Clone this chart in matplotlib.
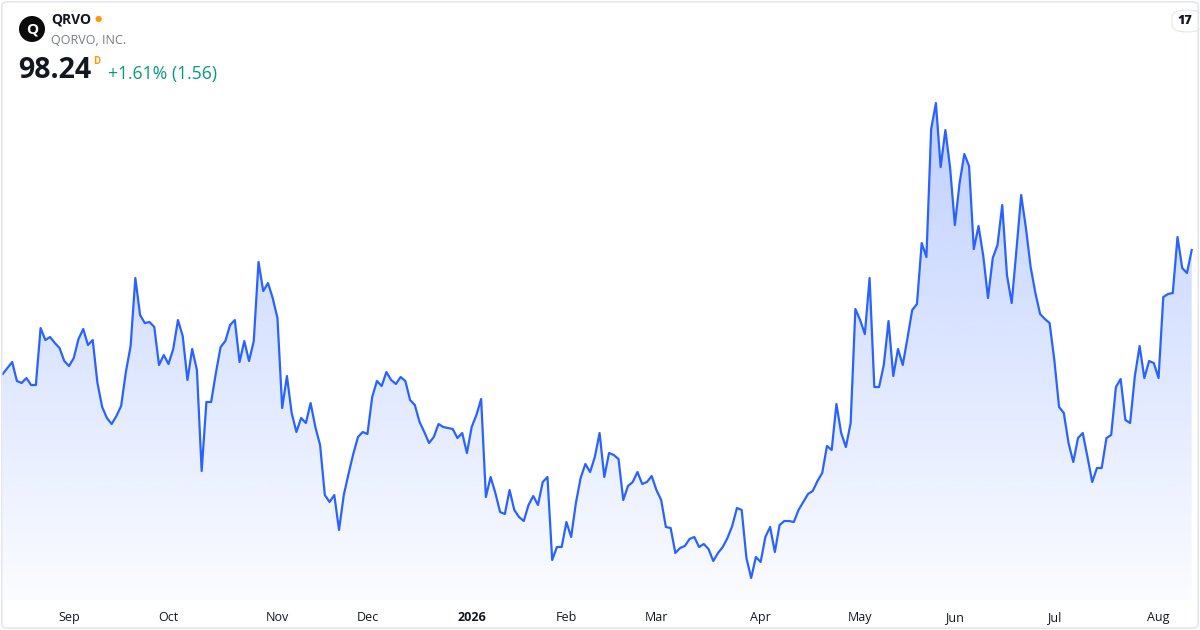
import matplotlib
matplotlib.use("Agg")
import matplotlib.pyplot as plt
from matplotlib.patches import FancyBboxPatch, Ellipse
import numpy as np
import pandas as pd

# QRVO daily closes (one per trading day)
prices_px = [374, 368, 362, 381, 383, 378, 385, 385, 328, 340, 337, 343, 348, 361, 366, 358,
             339, 329, 345, 340, 383, 407, 418, 424, 416, 406, 372, 346, 278, 315, 323, 322,
             327, 365, 355, 364, 349, 320, 336, 380, 349, 370, 471, 402, 402, 373, 347, 341,
             325, 320, 362, 341, 361, 341, 262, 291, 283, 298, 318, 408, 376, 413, 432, 418,
             423, 403, 427, 445, 495, 502, 495, 530, 495, 474, 454, 437, 432, 434, 397, 381,
             386, 372, 380, 384, 377, 381, 400, 405, 422, 432, 443, 437, 424, 427, 428, 429,
             438, 433, 453, 427, 415, 399, 497, 477, 493, 512, 514, 490, 510, 517, 521, 505,
             496, 505, 482, 477, 560, 547, 547, 522, 537, 503, 478, 464, 472, 457, 433, 477,
             453, 455, 459, 500, 486, 482, 472, 484, 482, 476, 490, 500, 527, 528, 553, 548,
             546, 539, 537, 547, 544, 549, 561, 553, 547, 538, 526, 508, 510, 558, 578, 557,
             562, 537, 527, 552, 525, 521, 521, 522, 510, 502, 494, 491, 481, 473, 446, 450,
             404, 433, 447, 423, 309, 320, 334, 278, 387, 387, 365, 321, 376, 349, 365, 338,
             310, 304, 243, 257, 129, 103, 167, 130, 168, 225, 183, 154, 166, 249, 226, 256,
             298, 258, 245, 205, 275, 303, 250, 195, 228, 267, 293, 314, 319, 323, 360, 407,
             413, 443, 462, 438, 433, 457, 482, 468, 468, 438, 435, 387, 379, 420, 423, 376,
             346, 378, 361, 363, 378, 297, 294, 293, 237, 268, 273, 250]
# convert the read heights to prices: last close 98.24, previous close 96.68
prices = 98.24 - (np.array(prices_px) - 250) * 1.56 / 23

holidays = ['2025-09-01', '2025-11-27', '2025-12-25', '2026-01-01', '2026-01-19',
            '2026-02-16', '2026-04-03', '2026-05-25', '2026-06-19', '2026-07-03']
dates = pd.bdate_range('2025-08-12', periods=len(prices), freq='C', holidays=holidays)

symbol = "QRVO"
company = "QORVO, INC."
last = "98.24"
change = "+1.61% (1.56)"

line_color = '#2962FF'

fig = plt.figure(figsize=(12, 6.3), dpi=100)
plt.rcParams['font.family'] = ['Open Sans', 'DejaVu Sans']

ax = fig.add_axes([0, 30 / 630, 1, 600 / 630])
x = np.arange(len(prices))
ymin, ymax = 74.5, 115.2
ax.set_xlim(-0.57, 252.75)
ax.set_ylim(ymin, ymax)

# gradient fill under the line
poly = ax.fill_between(x, prices, ymin, facecolor='none', edgecolor='none')
alpha = np.linspace(0.30, 0.02, 256)
grad = np.zeros((256, 1, 4))
grad[:, 0, :3] = matplotlib.colors.to_rgb(line_color)
grad[:, 0, 3] = alpha
im = ax.imshow(grad, extent=[-0.57, 252.75, ymin, prices.max()], aspect='auto',
               origin='upper', zorder=1)
im.set_clip_path(poly.get_paths()[0], transform=ax.transData)
ax.set_ylim(ymin, ymax)

ax.plot(x, prices, color=line_color, linewidth=1.6, zorder=2, solid_joinstyle='round')

# month ticks at the first trading day of each month
month = dates.month
pos = [i for i in range(1, len(dates)) if month[i] != month[i - 1]]
labels = [str(dates[i].year) if dates[i].month == 1 else dates[i].strftime('%b') for i in pos]
ax.set_xticks(pos)
ax.set_xticklabels(labels, fontsize=9, color='#131722')
for lab, t in zip(ax.get_xticklabels(), labels):
    if t.isdigit():
        lab.set_fontweight('bold')
ax.tick_params(axis='x', length=0, pad=8)
ax.set_yticks([])
for s in ax.spines.values():
    s.set_visible(False)
ax.patch.set_alpha(0)

# header
fig.patches.append(Ellipse((32 / 1200, 1 - 29 / 630), 26 / 1200, 26 / 630,
                           transform=fig.transFigure, facecolor='#0b0b0b', edgecolor='none'))
fig.text(32 / 1200, 1 - 29.5 / 630, "Q", fontsize=11, fontweight='bold', color='white',
         ha='center', va='center')
fig.text(51 / 1200, 1 - 20 / 630, symbol, fontsize=10, fontweight='bold', color='#131722',
         va='center')
fig.text(95 / 1200, 1 - 20 / 630, "●", fontsize=6, color='#FF9800', va='center')
fig.text(51 / 1200, 1 - 41 / 630, company, fontsize=9, color='#787B86', va='center')
fig.text(18 / 1200, 1 - 71 / 630, last, fontsize=20.5, fontweight='bold', color='#131722',
         va='center')
fig.text(93 / 1200, 1 - 61 / 630, "D", fontsize=7, fontweight='bold', color='#FF9800',
         va='center')
fig.text(108 / 1200, 1 - 74 / 630, change, fontsize=12.7, color='#089981', va='center')

# TradingView badge
fig.patches.append(FancyBboxPatch((1172 / 1200, 1 - 32 / 630), 30 / 1200, 22 / 630,
                                  boxstyle='round,pad=0,rounding_size=0.012',
                                  transform=fig.transFigure, facecolor='white',
                                  edgecolor='#e6e6e6', linewidth=0.8))
fig.text(1185 / 1200, 1 - 21 / 630, "17", fontsize=9, fontweight='heavy', color='#131722',
         ha='center', va='center')

# card border
fig.patches.append(FancyBboxPatch((0.0015, 0.003), 0.997, 0.994,
                                  boxstyle='round,pad=0,rounding_size=0.006',
                                  transform=fig.transFigure, facecolor='none',
                                  edgecolor='#e0e3eb', linewidth=1))

fig.savefig('out.png', dpi=100, facecolor='white')
